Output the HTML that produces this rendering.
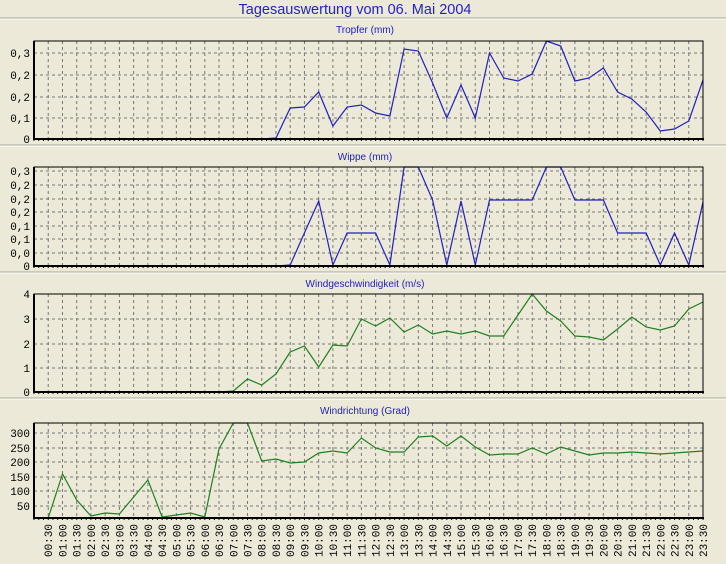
<!DOCTYPE html>
<html><head><meta charset="utf-8"><style>
html,body{margin:0;padding:0;background:#ece9d8;}
svg{display:block}
</style></head><body>
<svg id="s" width="726" height="564" xmlns="http://www.w3.org/2000/svg" font-family="Liberation Sans, sans-serif"></svg>
<script>
const X=i=>34+14.234*i;
let h='';
h+='<rect width="726" height="564" fill="#ece9d8"/>';
h+='<text x="355" y="14" text-anchor="middle" font-size="14.5" fill="#2222cc">Tagesauswertung vom 06. Mai 2004</text>';
[18,145,272,398].forEach(y=>{h+=`<line x1="0" x2="726" y1="${y}" y2="${y}" stroke="#aca899"/><line x1="0" x2="726" y1="${y+1}" y2="${y+1}" stroke="#fff"/>`;});
const panels=[
 {t:'Tropfer (mm)',ty:33,top:41,bot:139,grid:[[53,'0,3'],[75,'0,2'],[97,'0,2'],[118,'0,1'],[139,'0']],col:'#2020c0',
  d:{16:139,17:138,18:108,19:107,20:92,21:126,22:107,23:105,24:113,25:116,26:49,27:51,28:83,29:118,30:85,31:118,32:53,33:78,34:81,35:74,36:41,37:46,38:81,39:78,40:68,41:92,42:99,43:112,44:131,45:129,46:121,47:80},zeroBefore:16},
 {t:'Wippe (mm)',ty:160,top:167,bot:266,grid:[[171,'0,3'],[185,'0,2'],[199,'0,2'],[212,'0,2'],[226,'0,1'],[239,'0,1'],[253,'0,0'],[266,'0']],col:'#2020c0',
  d:{18:265,19:233,20:201,21:265,22:233,23:233,24:233,25:265,26:167,27:167,28:200,29:265,30:201,31:265,32:200,33:200,34:200,35:200,36:167,37:167,38:200,39:200,40:200,41:233,42:233,43:233,44:265,45:233,46:265,47:202},zeroBefore:18},
 {t:'Windgeschwindigkeit (m/s)',ty:287,top:294,bot:392,grid:[[294,'4'],[319,'3'],[344,'2'],[368,'1'],[392,'0']],col:'#208020',
  d:{14:391,15:379,16:385,17:374,18:352,19:346,20:367,21:345,22:346,23:319,24:326,25:318,26:332,27:325,28:334,29:331,30:334,31:331,32:336,33:336,34:315,35:294,36:311,37:321,38:336,39:337,40:340,41:329,42:317,43:327,44:330,45:326,46:309,47:302},zeroBefore:14},
 {t:'Windrichtung (Grad)',ty:414,top:423,bot:518,grid:[[433,'300'],[448,'250'],[462,'200'],[477,'150'],[491,'100'],[506,'50']],col:'#208020',
  d:{1:518,2:474,3:500,4:516,5:513,6:514,7:497,8:480,9:517,10:515,11:513,12:517,13:449,14:423,15:423,16:461,17:459,18:463,19:462,20:453,21:451,22:453,23:438,24:448,25:452,26:452,27:437,28:436,29:446,30:436,31:447,32:455,33:454,34:454,35:448,36:454,37:447,38:451,39:455,40:453,41:453,42:452,43:453,44:454,45:453,46:452,47:451},zeroBefore:1}
];
panels.forEach(p=>{
 h+=`<text x="365" y="${p.ty}" text-anchor="middle" font-size="10" fill="#2020c0">${p.t}</text>`;
 h+=`<rect x="34" y="${p.top}" width="669" height="${p.bot-p.top}" fill="#ece9d8"/>`;
 for(let i=1;i<47;i++){h+=`<line x1="${X(i)}" x2="${X(i)}" y1="${p.top}" y2="${p.bot}" stroke="#777" stroke-width="1" stroke-dasharray="3,3"/>`;}
 p.grid.forEach(g=>{
  if(g[0]>p.top+1&&g[0]<p.bot-1)h+=`<line x1="34" x2="703" y1="${g[0]}" y2="${g[0]}" stroke="#777" stroke-dasharray="3,3"/>`;
  h+=`<text x="30" y="${g[0]+4}" text-anchor="end" font-family="Liberation Mono, monospace" font-size="11" fill="#000">${g[1]}</text>`;
 });
 for(let k=0;k<=47*3;k++){const x=34+14.234*k/3;h+=`<line x1="${x}" x2="${x}" y1="${p.bot}" y2="${p.bot+2}" stroke="#000"/>`;}
 let pts=[];
 for(let i=(p.t.startsWith('Windr')?1:0);i<48;i++){let y=p.d[i]!==undefined?p.d[i]:p.bot;pts.push(X(i).toFixed(1)+','+y);}
 h+=`<polyline points="${pts.join(' ')}" fill="none" stroke="${p.col}" stroke-width="1.2"/>`;
 h+=`<rect x="34" y="${p.top}" width="669" height="${p.bot-p.top}" fill="none" stroke="#000" stroke-width="1"/>`;
 h+=`<line x1="34" x2="34" y1="${p.top}" y2="${p.bot+1}" stroke="#000" stroke-width="2"/>`;
 h+=`<line x1="33" x2="704" y1="${p.bot}" y2="${p.bot}" stroke="#000" stroke-width="2"/>`;
});
for(let i=1;i<48;i++){
 const m=i*30, hh=String(Math.floor(m/60)).padStart(2,'0'), mm=String(m%60).padStart(2,'0');
 h+=`<text transform="translate(${(X(i)+4).toFixed(1)},524) rotate(-90)" text-anchor="end" font-family="Liberation Mono, monospace" font-size="11" fill="#000">${hh}:${mm}</text>`;
}
document.getElementById('s').innerHTML=h;
</script>
</body></html>
